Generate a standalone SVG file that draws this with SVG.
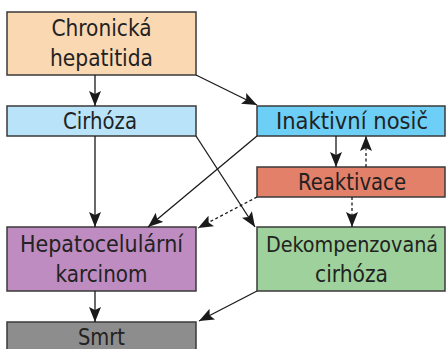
<svg xmlns="http://www.w3.org/2000/svg" width="446" height="349" viewBox="0 0 446 349">
<style>
.box{stroke:#3a3a3a;stroke-width:1.5}
.t{font-family:"DejaVu Sans Condensed","DejaVu Sans",sans-serif;font-stretch:condensed;font-size:23px;fill:#222;text-anchor:middle}
.c{stroke:#1a1a1a;stroke-width:1.3;fill:none}
.d{stroke-dasharray:3,2.5}
</style>
<defs>
<marker id="ah" viewBox="0 0 15 12" refX="15" refY="6" markerWidth="15" markerHeight="12" markerUnits="userSpaceOnUse" orient="auto">
<path d="M0,0 L15,6 L0,12 L3,6 Z" fill="#1a1a1a"/>
</marker>
</defs>
<rect width="446" height="349" fill="#fff"/>
<g id="chronicka">
<rect class="box" x="7" y="12" width="189" height="63" fill="#fad8b2"/>
<text class="t" x="101.5" y="36" textLength="100" lengthAdjust="spacingAndGlyphs">Chronická</text>
<text class="t" x="101.5" y="66" textLength="103" lengthAdjust="spacingAndGlyphs">hepatitida</text>
</g>
<g id="cirhoza">
<rect class="box" x="7" y="106" width="189" height="30" fill="#b8e3f8"/>
<text class="t" x="100" y="129" textLength="74" lengthAdjust="spacingAndGlyphs">Cirhóza</text>
</g>
<g id="inaktivni">
<rect class="box" x="257" y="106" width="188" height="30" fill="#6dcff5"/>
<text class="t" x="352" y="129" textLength="152" lengthAdjust="spacingAndGlyphs">Inaktivní nosič</text>
</g>
<g id="reaktivace">
<rect class="box" x="257" y="167" width="188" height="30" fill="#e2806a"/>
<text class="t" x="352" y="190" textLength="108" lengthAdjust="spacingAndGlyphs">Reaktivace</text>
</g>
<g id="hepatocelularni">
<rect class="box" x="7" y="227" width="189" height="64" fill="#be8cc0"/>
<text class="t" x="101.5" y="252" textLength="163" lengthAdjust="spacingAndGlyphs">Hepatocelulární</text>
<text class="t" x="101.5" y="282" textLength="92" lengthAdjust="spacingAndGlyphs">karcinom</text>
</g>
<g id="dekompenzovana">
<rect class="box" x="257" y="227" width="188" height="64" fill="#9ed19b"/>
<text class="t" x="352" y="252" style="font-size:22px" textLength="172" lengthAdjust="spacingAndGlyphs">Dekompenzovaná</text>
<text class="t" x="351.5" y="282" textLength="73" lengthAdjust="spacingAndGlyphs">cirhóza</text>
</g>
<g id="smrt">
<rect class="box" x="7" y="322" width="189" height="40" fill="#8d8d8d"/>
<text class="t" x="101.5" y="345" textLength="47" lengthAdjust="spacingAndGlyphs">Smrt</text>
</g>
<g id="connectors">
<line class="c" x1="95" y1="75" x2="95" y2="106" marker-end="url(#ah)"/>
<line class="c" x1="196" y1="75" x2="257" y2="105" marker-end="url(#ah)"/>
<line class="c" x1="95" y1="136" x2="95" y2="227" marker-end="url(#ah)"/>
<line class="c" x1="196" y1="136" x2="255" y2="227" marker-end="url(#ah)"/>
<line class="c" x1="257" y1="136" x2="148" y2="227" marker-end="url(#ah)"/>
<line class="c" x1="336" y1="136" x2="336" y2="167" marker-end="url(#ah)"/>
<line class="c d" x1="366" y1="167" x2="366" y2="136" marker-end="url(#ah)"/>
<line class="c d" x1="352" y1="197" x2="352" y2="227" marker-end="url(#ah)"/>
<line class="c d" x1="257" y1="197" x2="198" y2="228" marker-end="url(#ah)"/>
<line class="c" x1="95" y1="291" x2="95" y2="322" marker-end="url(#ah)"/>
<line class="c" x1="257" y1="291" x2="199" y2="321" marker-end="url(#ah)"/>
</g>
</svg>
